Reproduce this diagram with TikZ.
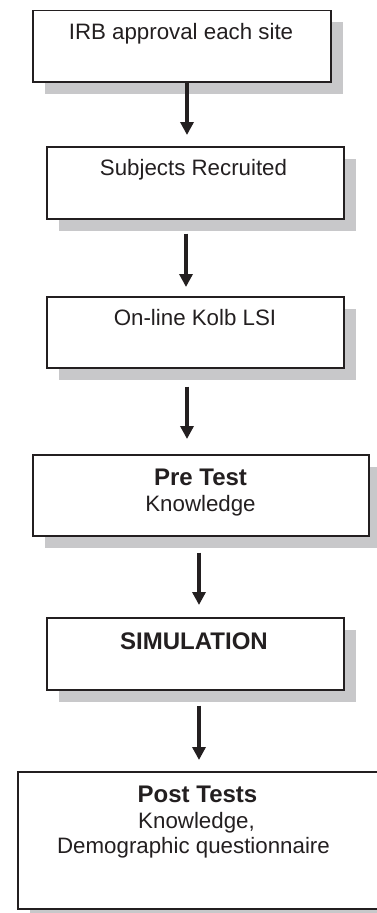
\documentclass[tikz,border=0pt]{standalone}
\usepackage{fontspec}
\setmainfont{Liberation Sans}
\usetikzlibrary{arrows.meta,shadows}
\definecolor{ink}{RGB}{35,31,32}
\definecolor{shadowc}{RGB}{200,200,202}
\tikzset{
  box/.style={draw=ink, line width=1.7pt, fill=white, inner sep=0pt, anchor=north west,
    drop shadow={shadow xshift=12pt, shadow yshift=-12pt, fill=shadowc, opacity=1}},
  txt/.style={anchor=base, inner sep=0pt, text=ink, align=center,
    font=\fontsize{22.3}{26}\selectfont},
  btxt/.style={txt, font=\fontsize{24}{26}\selectfont\bfseries},
  arr/.style={draw=ink, line width=3.6pt, -{Triangle[width=13pt,length=13pt]}}
}
\begin{document}
\begin{tikzpicture}[x=1pt,y=-1pt]
\useasboundingbox (0,0) rectangle (377,913);
\clip (0,0) rectangle (377,913);
% boxes
\node[box, minimum width=298pt, minimum height=71.5pt] (b1) at (32,9.5) {};
\node[box, minimum width=297pt, minimum height=72pt] (b2) at (46,146) {};
\node[box, minimum width=297pt, minimum height=71pt] (b3) at (46,296) {};
\node[box, minimum width=336pt, minimum height=81pt] (b4) at (32,454) {};
\node[box, minimum width=297pt, minimum height=72pt] (b5) at (46,617) {};
\node[box, minimum width=370pt, minimum height=137pt] (b6) at (17,771) {};
% texts
\node[txt] (t1) at (181,39) {IRB approval each site};
\node[txt] (t2) at (193.5,175) {Subjects Recruited};
\node[txt] (t3) at (195,325) {On-line Kolb LSI};
\node[btxt] (t4a) at (200.5,485) {Pre Test};
\node[txt] (t4b) at (200.5,511) {Knowledge};
\node[btxt] (t5) at (194,649) {SIMULATION};
\node[btxt] (t6a) at (197.5,802) {Post Tests};
\node[txt] (t6b) at (196.5,828) {Knowledge,};
\node[txt] (t6c) at (193.5,853) {Demographic questionnaire};
% arrow x positions
\coordinate (c1) at (187,0);
\coordinate (c2) at (186,0);
\coordinate (c3) at (187,0);
\coordinate (c4) at (199,0);
\coordinate (c5) at (199,0);
% arrows
\draw[arr, shorten >=11pt] (c1 |- b1.south) -- (c1 |- b2.north);
\draw[arr, shorten <=14pt, shorten >=9pt] (c2 |- b2.south) -- (c2 |- b3.north);
\draw[arr, shorten <=18pt, shorten >=15pt] (c3 |- b3.south) -- (c3 |- b4.north);
\draw[arr, shorten <=16pt, shorten >=12pt] (c4 |- b4.south) -- (c4 |- b5.north);
\draw[arr, shorten <=15pt, shorten >=11pt] (c5 |- b5.south) -- (c5 |- b6.north);
\end{tikzpicture}
\end{document}
